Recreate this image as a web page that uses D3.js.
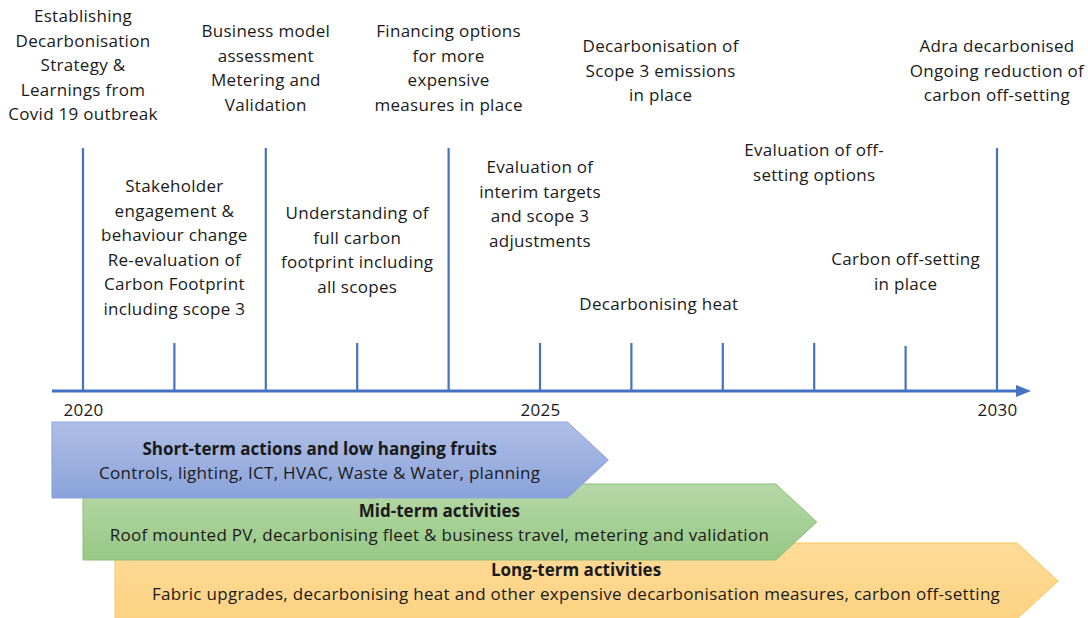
<!DOCTYPE html>
<html>
<head>
<meta charset="utf-8">
<script src="https://cdn.jsdelivr.net/npm/d3@7"></script>
<style>
  html, body { margin: 0; padding: 0; background: #fff; }
  svg { display: block; }
  text { font-family: "Open Sans", Lato, sans-serif; fill: #1a1a1a; }
</style>
</head>
<body>
<svg id="chart" width="1088" height="618"></svg>
<script>
// Timeline extent and year ticks
const yearDomain = [2020, 2030];
const tickYears = [2020, 2021, 2022, 2023, 2024, 2025, 2026, 2027, 2028, 2029, 2030];
const tallTickYears = [2020, 2022, 2024, 2030];
const yearLabels = [2020, 2025, 2030];

// Milestone text blocks: anchor year and lines
const milestoneYears = [2020, 2021, 2022, 2023, 2024, 2025, 2026.32, 2026.3, 2028, 2029, 2030];
const milestoneLines = [
  ["Establishing", "Decarbonisation", "Strategy &", "Learnings from", "Covid 19 outbreak"],
  ["Stakeholder", "engagement &", "behaviour change", "Re-evaluation of", "Carbon Footprint", "including scope 3"],
  ["Business model", "assessment", "Metering and", "Validation"],
  ["Understanding of", "full carbon", "footprint including", "all scopes"],
  ["Financing options", "for more", "expensive", "measures in place"],
  ["Evaluation of", "interim targets", "and scope 3", "adjustments"],
  ["Decarbonisation of", "Scope 3 emissions", "in place"],
  ["Decarbonising heat"],
  ["Evaluation of off-", "setting options"],
  ["Carbon off-setting", "in place"],
  ["Adra decarbonised", "Ongoing reduction of", "carbon off-setting"]
];
const milestoneTop = [16, 186, 31, 213, 31, 167, 46, 304, 150, 259, 46];

// Action phases
const phaseTitles = ["Short-term actions and low hanging fruits", "Mid-term activities", "Long-term activities"];
const phaseDetails = [
  "Controls, lighting, ICT, HVAC, Waste & Water, planning",
  "Roof mounted PV, decarbonising fleet & business travel, metering and validation",
  "Fabric upgrades, decarbonising heat and other expensive decarbonisation measures, carbon off-setting"
];
const phaseStart = [2019.66, 2020, 2020.35];
const phaseEnd = [2025.3, 2027.58, 2030.22];

const svg = d3.select("#chart");
const x = d3.scaleLinear().domain(yearDomain).range([83, 997]);

const axisY = 391;
const blue = "#4472C4";
const lineH = 24.6;
const fontSize = 17;
const spacing = 0.3;

// Gradients for the phase arrows
const defs = svg.append("defs");
const grads = [
  { id: "g0", top: "#afbee7", bot: "#8aa2d9", stroke: "#8aa5dc" },
  { id: "g1", top: "#b6d8a8", bot: "#97c885", stroke: "#8cc079" },
  { id: "g2", top: "#fedb98", bot: "#fdd283", stroke: "#f9c95c" }
];
grads.forEach(g => {
  const lg = defs.append("linearGradient").attr("id", g.id)
    .attr("x1", 0).attr("y1", 0).attr("x2", 0).attr("y2", 1);
  lg.append("stop").attr("offset", "0%").attr("stop-color", g.top);
  lg.append("stop").attr("offset", "100%").attr("stop-color", g.bot);
});

// Milestone ticks
svg.append("g").selectAll("line").data(tickYears).join("line")
  .attr("x1", d => x(d)).attr("x2", d => x(d))
  .attr("y1", d => tallTickYears.includes(d) ? 148 : (d === 2029 ? 346 : 343))
  .attr("y2", axisY)
  .attr("stroke", blue).attr("stroke-width", 2.2);

// Main axis line with arrowhead
const axisStart = x(2019.66);
const axisEnd = x(2030.23);
svg.append("line")
  .attr("x1", axisStart).attr("x2", axisEnd)
  .attr("y1", axisY).attr("y2", axisY)
  .attr("stroke", blue).attr("stroke-width", 3);
svg.append("path")
  .attr("d", `M${axisEnd - 2},${axisY - 6} L${axisEnd + 13},${axisY} L${axisEnd - 2},${axisY + 6} Z`)
  .attr("fill", blue);

// Year labels
const yearAxis = d3.axisBottom(x).tickValues(yearLabels).tickFormat(d3.format("d"))
  .tickSize(0).tickPadding(0);
const ag = svg.append("g").attr("transform", `translate(0,${axisY + 13})`).call(yearAxis);
ag.select(".domain").remove();
ag.selectAll("text").attr("font-size", fontSize).attr("letter-spacing", spacing)
  .attr("font-family", "'Open Sans', sans-serif").attr("fill", "#1a1a1a");

// Milestone descriptions
const mg = svg.append("g");
milestoneLines.forEach((lines, i) => {
  const t = mg.append("text")
    .attr("text-anchor", "middle")
    .attr("font-size", fontSize)
    .attr("letter-spacing", spacing);
  lines.forEach((ln, j) => {
    t.append("tspan")
      .attr("x", x(milestoneYears[i]))
      .attr("y", milestoneTop[i] + j * lineH)
      .attr("dy", "0.35em")
      .text(ln);
  });
});

// Phase arrows (later phases drawn first so earlier ones sit on top)
const bandTop = [422, 484, 543];
const bandH = [76, 76, 76];
const head = 41;
const pg = svg.append("g");
d3.range(phaseTitles.length).reverse().forEach(i => {
  const x0 = x(phaseStart[i]);
  const x1 = x(phaseEnd[i]);
  const y0 = bandTop[i];
  const y1 = y0 + bandH[i];
  const ym = (y0 + y1) / 2;
  const g = pg.append("g");
  g.append("path")
    .attr("d", `M${x0},${y0} L${x1},${y0} L${x1 + head},${ym} L${x1},${y1} L${x0},${y1} Z`)
    .attr("fill", `url(#${grads[i].id})`)
    .attr("stroke", grads[i].stroke).attr("stroke-width", 1);
  const cx = (x0 + x1) / 2 + 10;
  g.append("text").attr("x", cx).attr("y", y0 + 27).attr("dy", "0.35em")
    .attr("text-anchor", "middle").attr("font-size", fontSize).attr("font-weight", "bold")
    .text(phaseTitles[i]);
  g.append("text").attr("x", cx).attr("y", y0 + 51).attr("dy", "0.35em")
    .attr("text-anchor", "middle").attr("font-size", fontSize).attr("letter-spacing", spacing)
    .text(phaseDetails[i]);
});
</script>
</body>
</html>
